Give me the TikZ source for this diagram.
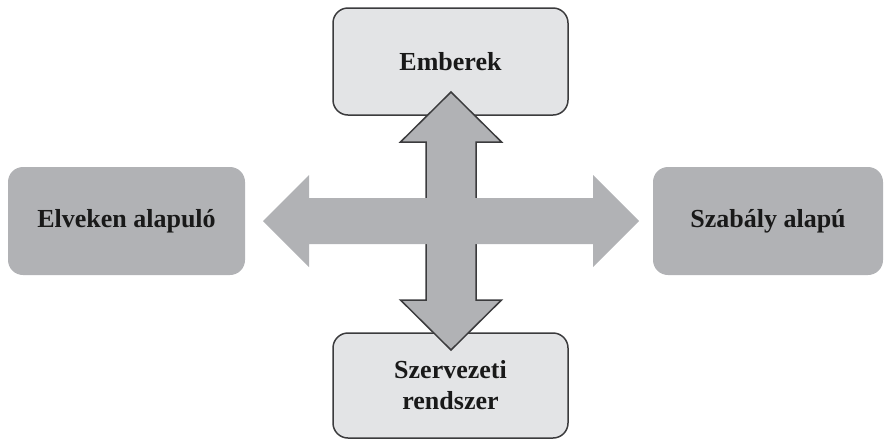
\documentclass[tikz,border=0pt]{standalone}
\usepackage{fontspec}
\setmainfont{Liberation Serif}
\definecolor{lightgrey}{HTML}{E3E4E6}
\definecolor{midgrey}{HTML}{B1B2B5}
\definecolor{edgegrey}{HTML}{3B3B3D}
\begin{document}
\begin{tikzpicture}[x=1pt, y=-1pt]
\tikzstyle{every node}=[rounded corners=15pt, align=center, text=black!90, font=\fontsize{26}{31}\selectfont\bfseries]
\tikzstyle{outerbox}=[draw=edgegrey, line width=1.5pt, fill=lightgrey]
\tikzstyle{sidebox}=[fill=midgrey]
\useasboundingbox (0,0) rectangle (886,440);
\node[outerbox, minimum width=235pt, minimum height=107pt](emb) at (450.5,61.5) {Emberek};
\node[outerbox, minimum width=235pt, minimum height=105pt](szerv) at (450.5,385.5) {Szervezeti\\rendszer};
\node[sidebox, minimum width=237pt, minimum height=108pt](elv) at (126.5,221) {Elveken alapuló};
\node[sidebox, minimum width=230pt, minimum height=108pt](szab) at (768,221) {Szabály alapú};
\coordinate (mid) at (451,221);
% up-down arrow, with outline
\draw[shift={(mid)}, draw=edgegrey, line width=1.5pt, fill=midgrey] (0,-129) -- (50.5,-79) -- (25,-79) -- (25,79) -- (50.5,79) -- (0,129) -- (-50.5,79) -- (-25,79) -- (-25,-79) -- (-50.5,-79) -- cycle;
% left-right arrow on top
\fill[shift={(mid)}, midgrey] (-188,0) -- (-142,-46) -- (-142,-23) -- (142,-23) -- (142,-46) -- (188,0) -- (142,46) -- (142,23) -- (-142,23) -- (-142,46) -- cycle;
\end{tikzpicture}
\end{document}
